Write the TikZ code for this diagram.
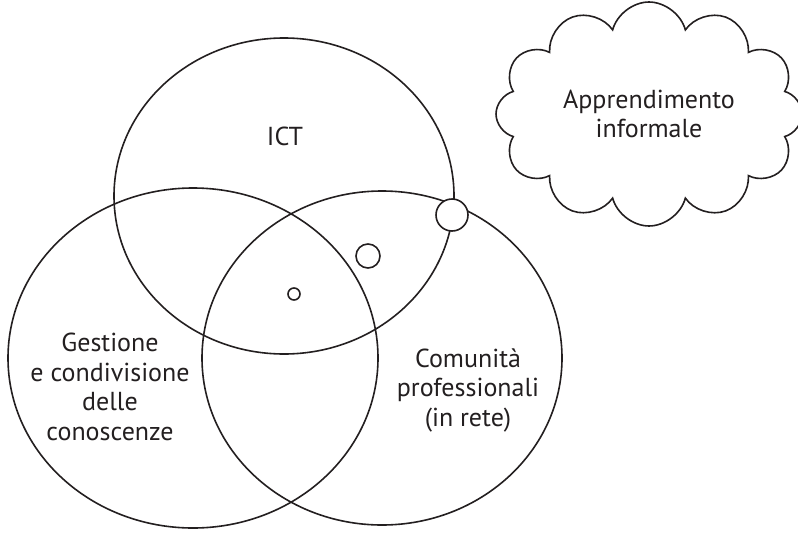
\documentclass[tikz,border=0pt]{standalone}
\usepackage{fontspec}
\setmainfont{PT Sans}
\usetikzlibrary{shapes.symbols}
\definecolor{inkblack}{RGB}{35, 31, 32}

\begin{document}
\begin{tikzpicture}[x=1pt, y=-1pt, line width=1.6pt,
    venntext/.style={align=center, text=inkblack, inner sep=0pt,
                     font=\fontsize{26}{29.5}\selectfont}]
            % Frame to fix the page size:
            \useasboundingbox                                                 (  0.0,   0.0) rectangle (798.0, 533.0);
            % ICT
            \draw[inkblack]                                                   (284.0, 196.0) ellipse [x radius=170pt, y radius=158pt];
            % Gestione
            \draw[inkblack]                                                   (193.0, 358.0) ellipse [x radius=185pt, y radius=170pt];
            % Comunita
            \draw[inkblack]                                                   (382.0, 358.0) ellipse [x radius=180pt, y radius=167pt];
            % Small circles
            \draw[inkblack, fill=white]                                       (452.0, 215.0) circle [radius=16pt];
            \draw[inkblack]                                                   (368.0, 256.0) circle [radius=12pt];
            \draw[inkblack]                                                   (294.0, 294.0) circle [radius=6pt];
            % Labels
            \node[venntext] (ict)       at (285.0, 136.0) {ICT};
            \node[venntext] (gestione)  at (110.0, 387.0) {Gestione\\e condivisione\\delle\\conoscenze};
            \node[venntext] (comunita)  at (468.0, 390.0) {Comunità\\professionali\\(in rete)};
            % Cloud
            \node[venntext, draw=inkblack, cloud, cloud puffs=12, cloud ignores aspect,
                  minimum width=306pt, minimum height=224pt] (informale) at (649.0, 114.0)
                 {Apprendimento\\informale};
        \end{tikzpicture}
\end{document}
